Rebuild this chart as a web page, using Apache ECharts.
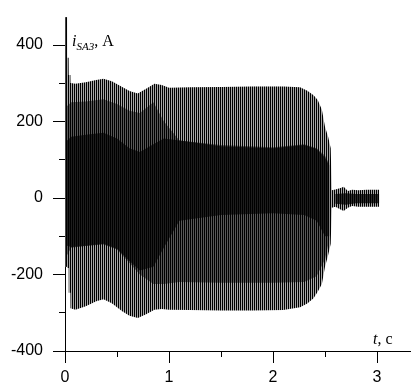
<!DOCTYPE html>
<html><head><meta charset="utf-8">
<script src="https://cdn.jsdelivr.net/npm/echarts@6/dist/echarts.min.js"></script>
<style>html,body{margin:0;padding:0;background:#fff}#c{width:411px;height:389px}</style>
</head><body><div id="c"></div>
<script>
// Outer envelope of the current i_SA3(t) (upper / lower peaks)
const envT = [0, 0.02, 0.021, 0.035, 0.036, 0.052, 0.053, 0.1, 0.2, 0.3, 0.37, 0.45, 0.55, 0.62, 0.7, 0.78, 0.86, 0.93, 1.0, 1.2, 1.5, 1.8, 2.1, 2.26, 2.33, 2.39, 2.43, 2.47, 2.5, 2.53, 2.555, 2.565, 2.6, 2.65, 2.68, 2.72, 2.76, 2.82, 2.9, 3.0, 3.02];
const envUpper = [472, 472, 366, 366, 321, 321, 300, 298, 302, 308, 311, 305, 290, 279, 273, 285, 298, 295, 288, 289, 290, 291, 291, 289, 280, 268, 256, 230, 186, 160, 130, 20, 22, 26, 29, 18, 21, 20, 21, 21, 21];
const envLower = [-180, -180, -183, -183, -248, -248, -288, -292, -283, -270, -265, -275, -296, -308, -314, -304, -292, -290, -292, -293, -294, -294, -293, -286, -276, -262, -245, -225, -180, -150, -120, -26, -23, -30, -34, -26, -21, -23, -23, -23, -23];
// Initial inrush peak (first half-cycle)
const spikeT = [0.004, 0.016];
const spikeUpper = [472, 472];
const spikeLower = [-180, -180];
// Medium-density zone of the waveform
const midT = [0.02, 0.06, 0.2, 0.37, 0.5, 0.62, 0.72, 0.85, 0.95, 1.1, 1.5, 2.0, 2.3, 2.42, 2.5, 2.54];
const midUpper = [240, 250, 252, 258, 245, 228, 222, 250, 200, 150, 138, 132, 140, 130, 110, 90];
const midLower = [-150, -130, -126, -122, -135, -170, -200, -225, -225, -220, -222, -222, -220, -205, -160, -110];
// Dense (dark) zone
const coreT = [0.02, 0.06, 0.2, 0.37, 0.5, 0.62, 0.72, 0.85, 0.95, 1.1, 1.5, 2.0, 2.3, 2.42, 2.5, 2.54];
const coreUpper = [150, 160, 165, 170, 155, 130, 120, 140, 155, 150, 135, 130, 138, 128, 105, 85];
const coreLower = [-125, -128, -125, -120, -133, -165, -190, -180, -130, -60, -45, -40, -45, -60, -100, -100];
// Dense zone of the residual oscillation
const tailT = [2.6, 2.7, 2.8, 2.9, 3.0, 3.02];
const tailUpper = [10, 12, 10, 10, 10, 10];
const tailLower = [-15, -18, -14, -14, -14, -14];
// Axis ticks
const xTicks = [0, 1, 2, 3];
const xMinor = [0.5, 1.5, 2.5];
const yTicks = [-400, -200, 0, 200, 400];
const yMinor = [-300, -100, 100, 300];

function stripes(light) {
  const c = document.createElement('canvas');
  c.width = 2; c.height = 2;
  const g = c.getContext('2d');
  g.fillStyle = light; g.fillRect(0, 0, 2, 2);
  g.fillStyle = '#000'; g.fillRect(0, 0, 1, 2);
  return { image: c, repeat: 'repeat' };
}
function band(T, U, L, fill) {
  return {
    type: 'custom', coordinateSystem: 'cartesian2d', silent: true, clip: false,
    data: [[T[0], U[0]]],
    renderItem: function (params, api) {
      const pts = [];
      for (let i = 0; i < T.length; i++) pts.push(api.coord([T[i], U[i]]));
      for (let i = T.length - 1; i >= 0; i--) pts.push(api.coord([T[i], L[i]]));
      return { type: 'polygon', shape: { points: pts }, style: { fill: fill, stroke: null } };
    }
  };
}
const lbl = { fontFamily: 'Liberation Sans', fontSize: 16, color: '#000' };
const chart = echarts.init(document.getElementById('c'), null, { renderer: 'canvas' });
chart.setOption({
  animation: false,
  backgroundColor: '#fff',
  grid: { left: 65, right: 0, top: 18, bottom: 38, containLabel: false },
  xAxis: [
    { type: 'value', min: 0, max: 3.327, position: 'bottom',
      axisLine: { onZero: false, lineStyle: { color: '#000', width: 1 } },
      axisTick: { customValues: xTicks, length: 12, lineStyle: { color: '#000' } },
      axisLabel: Object.assign({ customValues: xTicks, margin: 19 }, lbl),
      splitLine: { show: false } },
    { type: 'value', min: 0, max: 3.327, position: 'bottom',
      axisLine: { show: false, onZero: false },
      axisTick: { customValues: xMinor, length: 6, lineStyle: { color: '#000' } },
      axisLabel: { show: false }, splitLine: { show: false } }
  ],
  yAxis: [
    { type: 'value', min: -400, max: 470, position: 'left',
      axisLine: { show: true, onZero: false, lineStyle: { color: '#000', width: 1 } },
      axisTick: { show: true, customValues: yTicks, length: 12, lineStyle: { color: '#000' } },
      axisLabel: Object.assign({ customValues: yTicks, margin: 22 }, lbl),
      splitLine: { show: false } },
    { type: 'value', min: -400, max: 470, position: 'left',
      axisLine: { show: false, onZero: false },
      axisTick: { show: true, customValues: yMinor, length: 6, lineStyle: { color: '#000' } },
      axisLabel: { show: false }, splitLine: { show: false } }
  ],
  series: [
    band(envT, envUpper, envLower, stripes('#a8a8a8')),
    band(midT, midUpper, midLower, stripes('#585858')),
    band(coreT, coreUpper, coreLower, stripes('#1e1e1e')),
    band(tailT, tailUpper, tailLower, stripes('#2a2a2a')),
    band(spikeT, spikeUpper, spikeLower, '#000')
  ],
  graphic: [
    { type: 'text', x: 72, y: 34, z: 100,
      style: { text: '{i|i}{s|SA3}{n|, A}', rich: {
        i: { fontFamily: 'Liberation Serif', fontStyle: 'italic', fontSize: 16, fill: '#000', verticalAlign: 'bottom' },
        s: { fontFamily: 'Liberation Serif', fontStyle: 'italic', fontSize: 11, fill: '#000', verticalAlign: 'bottom', padding: [0, 0, -3, 0] },
        n: { fontFamily: 'Liberation Serif', fontSize: 16, fill: '#000', verticalAlign: 'bottom' } } } },
    { type: 'text', x: 373, y: 332, z: 100,
      style: { text: '{i|t}{n|, c}', rich: {
        i: { fontFamily: 'Liberation Serif', fontStyle: 'italic', fontSize: 16, fill: '#000' },
        n: { fontFamily: 'Liberation Serif', fontSize: 16, fill: '#000' } } } }
  ]
});
</script></body></html>
